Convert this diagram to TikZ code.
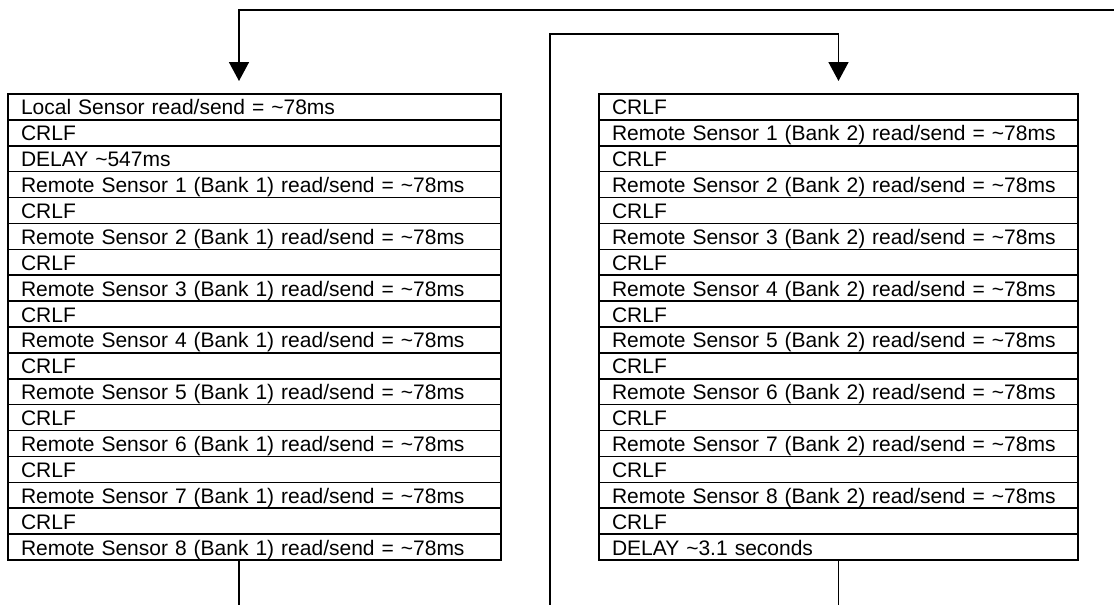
\documentclass[tikz,border=0pt]{standalone}
\usepackage{fontspec}
\setmainfont{Liberation Sans}
\usetikzlibrary{
  arrows.meta,
  positioning
}
\tikzset{
  row/.style={draw,line width=1.5pt,inner xsep=13pt,inner ysep=0pt,outer sep=0pt,
    minimum height=25.89pt,text height=17.5pt,text depth=1.5pt,align=left,
    font=\fontsize{21}{25}\selectfont},
  rowL/.style={row,text width=467pt},
  rowR/.style={row,text width=453pt},
  frame/.style={draw,line width=2.2pt},
  wire/.style={line width=1.6pt},
  flow/.style={wire,-{Triangle[width=20pt,length=19pt]},shorten >=13pt}
}

\begin{document}
\begin{tikzpicture}[x=1pt,y=-1pt]
\useasboundingbox (0,0) rectangle (1114,605);
% bank 1 column
\node[rowL,anchor=north west] (L1) at (8,94) {Local Sensor read/send = \textasciitilde78ms};
\node[rowL,below=0pt of L1] (L2) {CRLF};
\node[rowL,below=0pt of L2] (L3) {DELAY \textasciitilde547ms};
\foreach \s in {1,...,8}{
  \pgfmathtruncatemacro\a{2*\s+2}
  \pgfmathtruncatemacro\p{\a-1}
  \node[rowL,below=0pt of L\p] (L\a) {Remote Sensor \s\ (Bank 1) read/send = \textasciitilde78ms};
  \ifnum\s<8
    \pgfmathtruncatemacro\c{\a+1}
    \node[rowL,below=0pt of L\a] (L\c) {CRLF};
  \fi
}
\draw[frame] (L1.north west) rectangle (L18.south east);
% bank 2 column
\node[rowR,anchor=north west] (R1) at (599,94) {CRLF};
\foreach \s in {1,...,8}{
  \pgfmathtruncatemacro\a{2*\s}
  \pgfmathtruncatemacro\p{\a-1}
  \pgfmathtruncatemacro\c{\a+1}
  \node[rowR,below=0pt of R\p] (R\a) {Remote Sensor \s\ (Bank 2) read/send = \textasciitilde78ms};
  \node[rowR,below=0pt of R\a] (R\c) {CRLF};
}
\node[rowR,below=0pt of R17] (R18) {DELAY \textasciitilde3.1 seconds};
\draw[frame] (R1.north west) rectangle (R18.south east);
% loop lines
\coordinate (inL) at ([xshift=-15.5pt]L1.north);
\coordinate (outL) at ([xshift=-15.5pt]L18.south);
\coordinate (feedL) at (1114,10);
\coordinate (feedR) at (550,605);
\coordinate (bendR) at (R1.north |- 0,34);
\draw[flow] (feedL) -| (inL);
\draw[flow] (feedR) |- (bendR) -- (R1.north);
\draw[wire] (outL) -- (outL |- 0,605);
\draw[wire] (R18.south) -- (R18.south |- 0,605);
\end{tikzpicture}
\end{document}
